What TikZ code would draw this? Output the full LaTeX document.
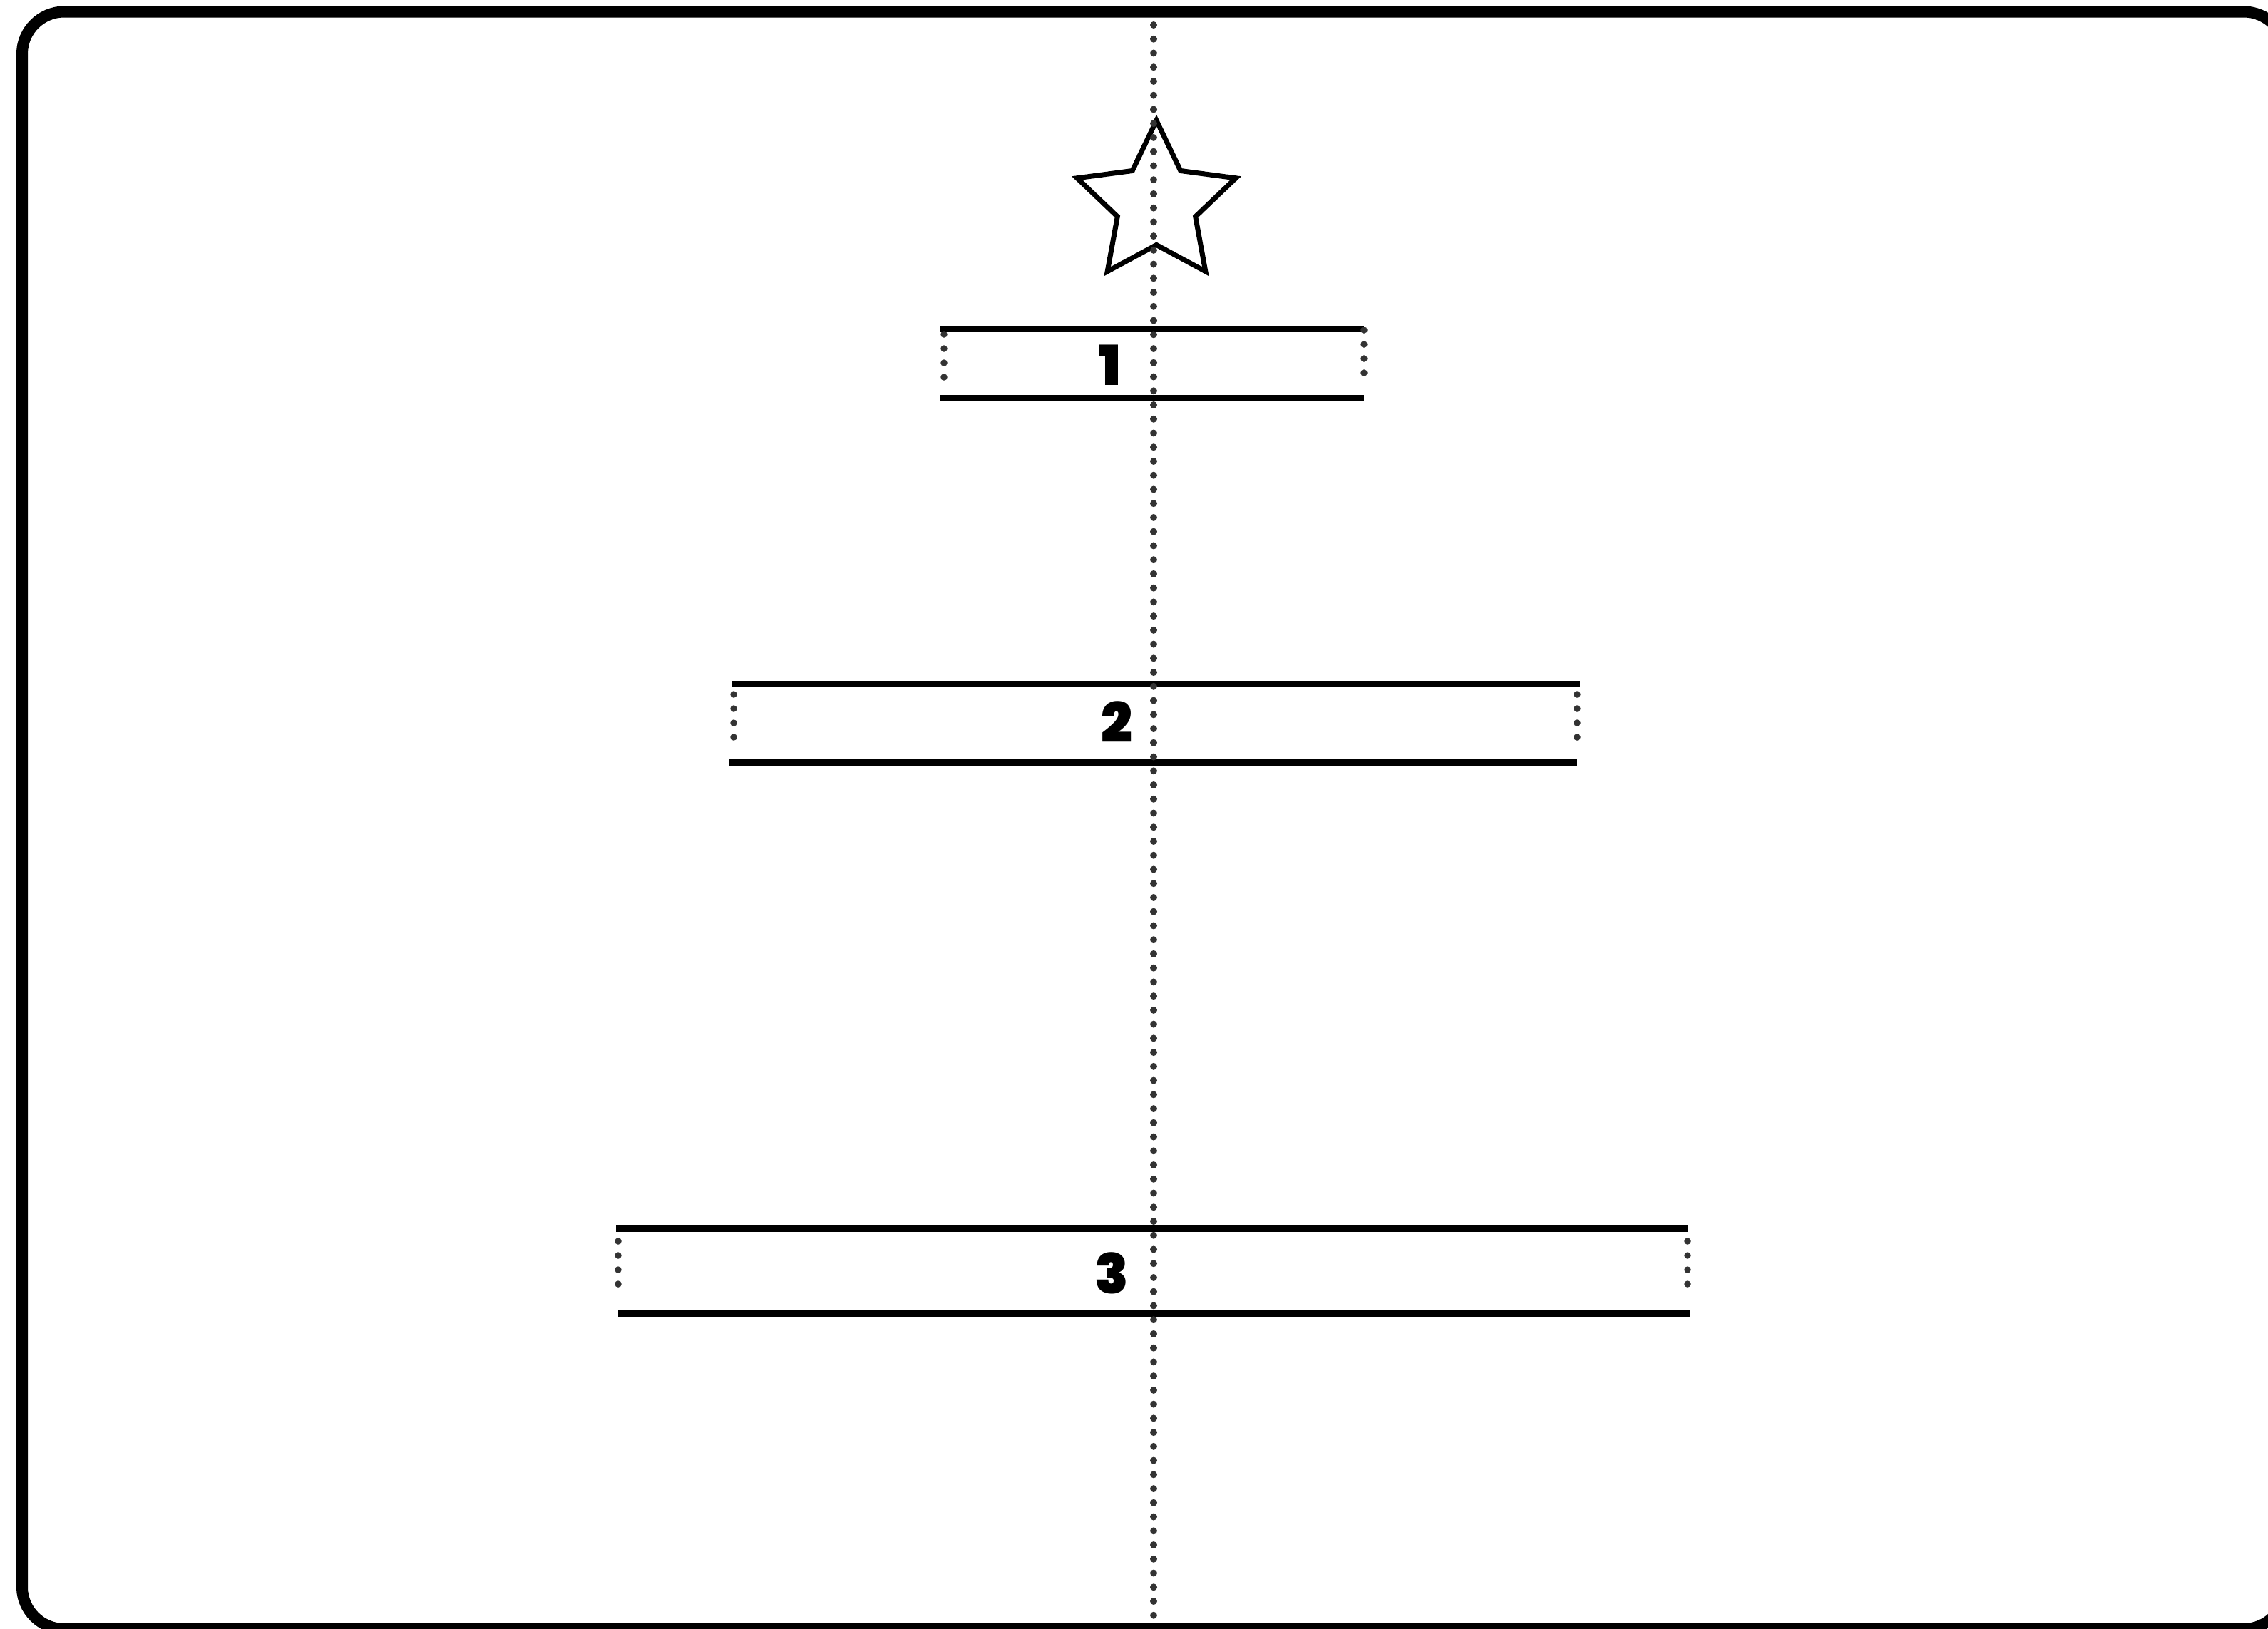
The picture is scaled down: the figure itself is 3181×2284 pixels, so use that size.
\documentclass[tikz,border=0pt]{standalone}
\usepackage{fontspec}
\newfontfamily\numfont{Poppins Black}
\definecolor{dotgray}{HTML}{333333}
\tikzset{
  framebox/.style={line width=0.16cm, rounded corners=0.59cm, draw=black},
  barline/.style={line width=0.095cm, draw=black, line cap=butt},
  dotline/.style={draw=dotgray, line width=0.1cm, line cap=round, dash pattern=on 0pt off 0.1973cm},
  sidedots/.style={draw=dotgray, line width=0.095cm, line cap=round, dash pattern=on 0pt off 0.2cm},
  starline/.style={draw=black, line width=0.07cm, line join=miter},
  numlabel/.style={inner sep=0pt, font=\numfont\fontsize{22}{22}\selectfont}
}
\begin{document}
\begin{tikzpicture}[x=0.01cm, y=-0.01cm]
\useasboundingbox (0,0) rectangle (3181,2284);
\begin{scope}
\clip (0,0) rectangle (3181,2284);
\fill[white] (0,0) rectangle (3181,2284);
% outer frame
\draw[framebox] (31,16.5) rectangle (3206,2285);
% star
\draw[starline] (1622,169) -- (1655.8,239.5) -- (1733.3,249.8) -- (1676.7,303.8)
  -- (1690.8,380.7) -- (1622,343.5) -- (1553.2,380.7) -- (1567.3,303.8)
  -- (1510.7,249.8) -- (1588.2,239.5) -- cycle;
% box 1
\draw[barline] (1319,461.5) -- (1913,461.5);
\draw[barline] (1319,558.5) -- (1913,558.5);
\draw[sidedots] (1324,469) -- (1324,549);
\draw[sidedots] (1913,463) -- (1913,543);
\node[numlabel] (l1) at (1557,512) {1};
% box 2
\draw[barline] (1027,959.5) -- (2216,959.5);
\draw[barline] (1023,1069) -- (2212,1069);
\draw[sidedots] (1029,974) -- (1029,1054);
\draw[sidedots] (2212,974) -- (2212,1054);
\node[numlabel] (l2) at (1566,1013) {2};
% box 3
\draw[barline] (864,1723) -- (2367,1723);
\draw[barline] (867,1842.5) -- (2370,1842.5);
\draw[sidedots] (867,1741) -- (867,1821);
\draw[sidedots] (2367,1741) -- (2367,1821);
\node[numlabel] (l3) at (1559,1786) {3};
% central dotted axis
\draw[dotline] (1618,35) -- (1618,2285);
\end{scope}
\end{tikzpicture}
\end{document}
